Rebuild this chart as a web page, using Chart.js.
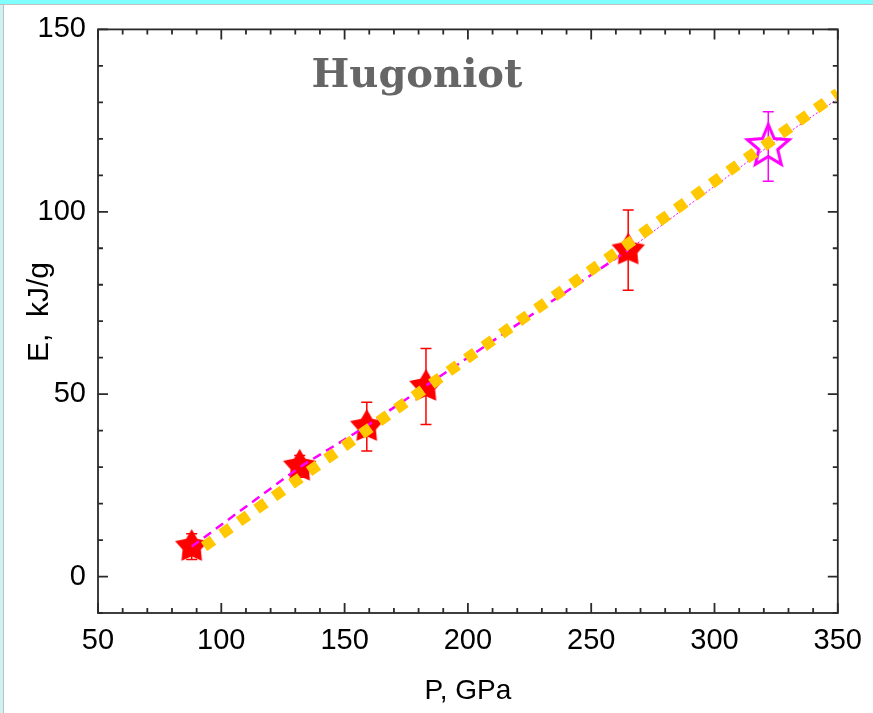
<!DOCTYPE html>
<html>
<head>
<meta charset="utf-8">
<script src="https://cdn.jsdelivr.net/npm/chart.js@4.4.0/dist/chart.umd.min.js"></script>
<style>
  html, body { margin: 0; padding: 0; background: #fff; }
  #wrap { position: relative; width: 873px; height: 713px; overflow: hidden; }
  #topBand { position: absolute; left: 0; top: 0; width: 873px; height: 4px; background: #80ffff; border-bottom: 1px solid #c0c0c0; }
  #leftBand { position: absolute; left: 0; top: 5px; width: 3px; height: 708px; background: #cff2f2; border-right: 1px solid #c0c0c0; }
  canvas { position: absolute; left: 0; top: 0; }
</style>
</head>
<body>
<div id="wrap">
  <canvas id="chart" width="873" height="713"></canvas>
  <div id="topBand"></div>
  <div id="leftBand"></div>
</div>
<script>
// measured points (red stars) with error bars
const pressure = [88.0, 131.8, 159.0, 183.0, 265.0];
const energy = [8.2, 30.2, 41.1, 52.1, 89.5];
const energyErr = [3.5, 3.0, 6.7, 10.4, 11.0];

// predicted point (open magenta star)
const predPressure = [321.8];
const predEnergy = [117.9];
const predErr = [9.5];

// magenta fit: dashed part and dotted continuation
const fitP = [88.0, 131.8, 159.0, 183.0, 265.0];
const fitE = [8.2, 30.0, 41.3, 52.3, 89.5];
const extP = [265.0, 321.8, 350.0];
const extE = [89.5, 117.9, 131.0];

// yellow dotted curve
const curveP = [93.0, 135.0, 200.0, 262.0, 297.0, 350.0];
const curveE = [8.2, 28.5, 60.0, 89.8, 106.9, 132.5];

const xTicks = [50, 100, 150, 200, 250, 300, 350];
const yTicks = [0, 50, 100, 150];

const toXY = (xs, ys) => xs.map((x, i) => ({ x: x, y: ys[i] }));

function starImage(r, ratio, fill, stroke, lw) {
  const c = document.createElement('canvas');
  const s = Math.ceil(r * 2 + lw + 4);
  c.width = s; c.height = s;
  const g = c.getContext('2d');
  const cx = s / 2, cy = s / 2;
  g.beginPath();
  for (let i = 0; i < 10; i++) {
    const rad = i % 2 === 0 ? r : r * ratio;
    const a = -Math.PI / 2 + i * Math.PI / 5;
    const px = cx + rad * Math.cos(a), py = cy + rad * Math.sin(a);
    if (i === 0) g.moveTo(px, py); else g.lineTo(px, py);
  }
  g.closePath();
  if (fill) { g.fillStyle = fill; g.fill(); }
  if (stroke) { g.lineWidth = lw; g.lineJoin = 'miter'; g.strokeStyle = stroke; g.stroke(); }
  return c;
}

const redStar = starImage(17.5, 0.55, '#ff0000', null, 0);
const pinkStar = starImage(22, 0.45, null, '#ff00ff', 3);

// error bars, drawn under the markers
const errorBars = {
  id: 'errorBars',
  beforeDatasetsDraw(chart) {
    const { ctx, scales: { x, y } } = chart;
    const sets = [
      { p: pressure, e: energy, d: energyErr, color: '#ff0000' },
      { p: predPressure, e: predEnergy, d: predErr, color: '#ff00ff' }
    ];
    ctx.save();
    ctx.lineWidth = 1.5;
    sets.forEach(s => {
      ctx.strokeStyle = s.color;
      s.p.forEach((p, i) => {
        const px = x.getPixelForValue(p);
        const top = y.getPixelForValue(s.e[i] + s.d[i]);
        const bot = y.getPixelForValue(s.e[i] - s.d[i]);
        ctx.beginPath();
        ctx.moveTo(px, top); ctx.lineTo(px, bot);
        ctx.moveTo(px - 5.5, top); ctx.lineTo(px + 5.5, top);
        ctx.moveTo(px - 5.5, bot); ctx.lineTo(px + 5.5, bot);
        ctx.stroke();
      });
    });
    ctx.restore();
  }
};

// box frame with inward ticks on all four sides, title and y axis name
const frame = {
  id: 'frame',
  afterDraw(chart) {
    const { ctx, chartArea: a, scales: { x, y } } = chart;
    ctx.save();
    ctx.strokeStyle = '#2a2a2a';
    ctx.lineWidth = 1.8;
    ctx.strokeRect(a.left, a.top, a.right - a.left, a.bottom - a.top);
    ctx.beginPath();
    for (let v = 50; v <= 350; v += 10) {
      const px = x.getPixelForValue(v);
      const len = v % 50 === 0 ? 10 : 5;
      ctx.moveTo(px, a.bottom); ctx.lineTo(px, a.bottom - len);
      ctx.moveTo(px, a.top); ctx.lineTo(px, a.top + len);
    }
    for (let v = -10; v <= 150; v += 10) {
      const py = y.getPixelForValue(v);
      const len = v % 50 === 0 ? 10 : 5;
      ctx.moveTo(a.left, py); ctx.lineTo(a.left + len, py);
      ctx.moveTo(a.right, py); ctx.lineTo(a.right - len, py);
    }
    ctx.stroke();

    ctx.fillStyle = '#666';
    ctx.font = 'bold 40px "DejaVu Serif"';
    ctx.textAlign = 'center';
    ctx.textBaseline = 'alphabetic';
    ctx.fillText('Hugoniot', 417, 87);

    ctx.fillStyle = '#000';
    ctx.font = '30px "Liberation Sans"';
    ctx.translate(40, 312);
    ctx.rotate(-Math.PI / 2);
    ctx.textBaseline = 'middle';
    ctx.fillText('E,  kJ/g', 0, 0);
    ctx.restore();
  }
};

new Chart(document.getElementById('chart'), {
  type: 'scatter',
  data: {
    datasets: [
      {
        data: toXY(curveP, curveE),
        showLine: true,
        borderColor: '#ffc800',
        borderWidth: 11,
        borderDash: [11, 10.5],
        borderCapStyle: 'butt',
        pointRadius: 0,
        tension: 0
      },
      {
        data: toXY(fitP, fitE),
        showLine: true,
        borderColor: '#ff00ff',
        borderWidth: 2.5,
        borderDash: [9, 6],
        pointRadius: 0
      },
      {
        data: toXY(extP, extE),
        showLine: true,
        borderColor: '#ff00ff',
        borderWidth: 1,
        borderDash: [2, 2],
        pointRadius: 0
      },
      {
        data: toXY(predPressure, predEnergy),
        pointStyle: pinkStar,
        pointRadius: 22
      },
      {
        data: toXY(pressure, energy),
        pointStyle: redStar,
        pointRadius: 17
      }
    ]
  },
  options: {
    responsive: false,
    animation: false,
    layout: { padding: { top: 29, right: 33, left: 0, bottom: 0 } },
    plugins: { legend: { display: false }, tooltip: { enabled: false } },
    scales: {
      x: {
        type: 'linear',
        min: 50, max: 350,
        afterFit: s => { s.height = 100; },
        afterBuildTicks: s => { s.ticks = xTicks.map(v => ({ value: v })); },
        grid: { display: false, drawTicks: false },
        border: { display: false },
        ticks: { color: '#000', padding: 11, font: { family: 'Liberation Sans', size: 29 } },
        title: { display: true, text: 'P, GPa', color: '#000', padding: { top: 0, bottom: 5 }, font: { family: 'Liberation Sans', size: 28 } }
      },
      y: {
        type: 'linear',
        min: -10, max: 150,
        afterFit: s => { s.width = 98; },
        afterBuildTicks: s => { s.ticks = yTicks.map(v => ({ value: v })); },
        grid: { display: false, drawTicks: false },
        border: { display: false },
        ticks: { color: '#000', padding: 12, font: { family: 'Liberation Sans', size: 29 } }
      }
    }
  },
  plugins: [errorBars, frame]
});
</script>
</body>
</html>
